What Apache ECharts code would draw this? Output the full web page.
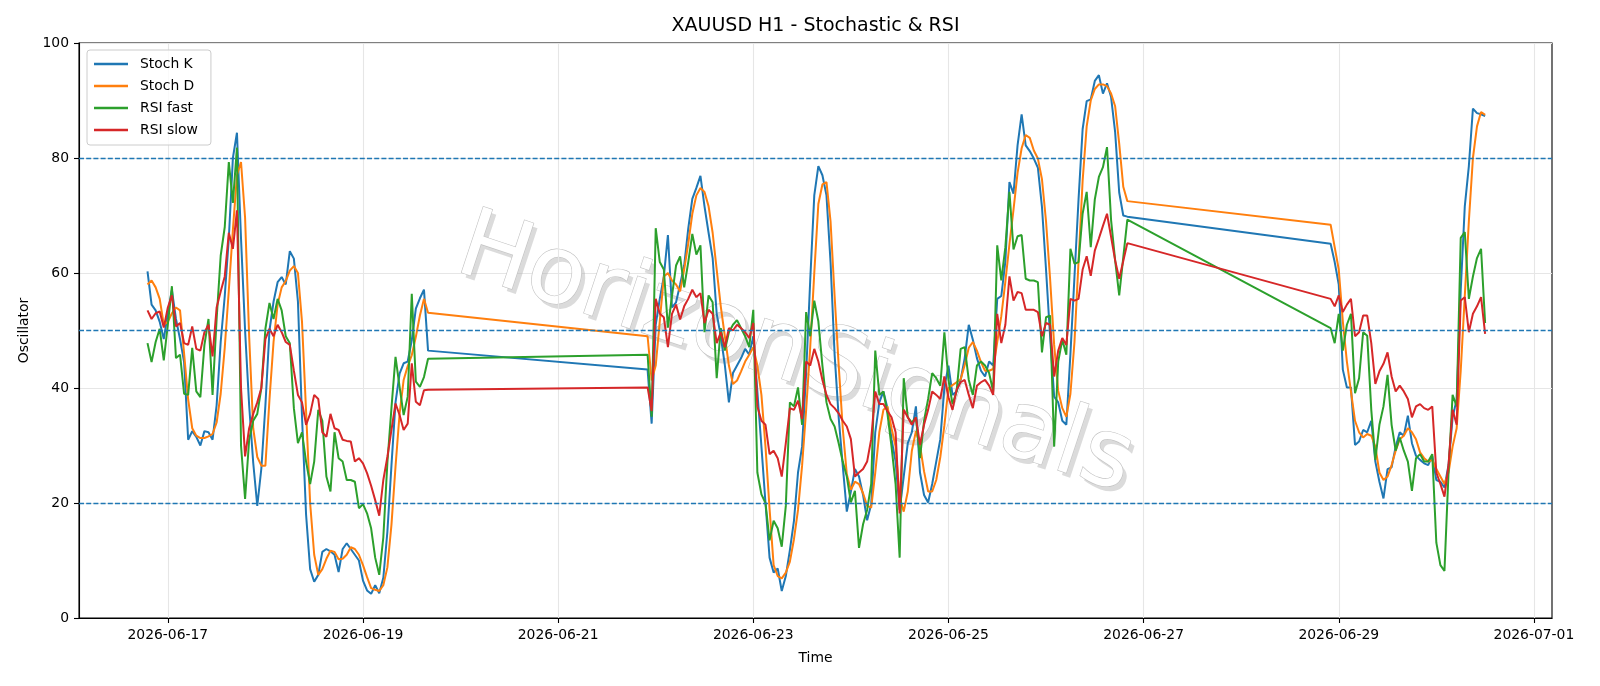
<!DOCTYPE html>
<html><head><meta charset="utf-8">
<script src="https://cdn.jsdelivr.net/npm/echarts@6/dist/echarts.min.js"></script>
<style>html,body{margin:0;padding:0;background:#fff}#c{width:1600px;height:686px}</style>
</head><body><div id="c"></div>
<script>
// hourly segments (data resumes after weekend gaps)
const segmentStarts = ['2026-06-16T19:00:00', '2026-06-21T22:00:00', '2026-06-28T22:00:00'];
const xTickLabels = ['2026-06-17','2026-06-19','2026-06-21','2026-06-23','2026-06-25','2026-06-27','2026-06-29','2026-07-01'];
const levelLines = [20,50,80];
const seriesNames = ['Stoch K','Stoch D','RSI fast','RSI slow'];

const stochK1 = [60.3,54.5,53.5,51.5,48.5,53,57,52,48.5,44.5,31,32.5,31.5,30,32.5,32.3,31,37,48,56,66,80,84.4,66,50,37,27,19.5,26,37,50,55,58.4,59.3,58,63.8,62.5,55,35,18,8.5,6.3,7.5,11.5,12,11.6,11,8,12,13,12,11,10,6.5,4.8,4.2,5.7,4.3,7,15,26.5,37.5,42.5,44.3,44.6,48.3,53.8,55.6,57.1,46.5];
const stochK2 = [43.2,33.8,51,55.5,59.4,66.6,54,54.9,58,61.3,67.7,72.9,74.8,76.9,71.6,67,62.6,52.9,49,44,37.5,42.6,43.9,45.2,46.8,45.8,49,39.4,29.8,20,10.5,7.9,8.6,4.7,7.3,11.8,16.9,25.3,29.8,42.6,58.7,73.5,78.6,77,73.5,61.9,45.8,34.9,26.5,18.5,22,25.9,24.6,21.4,17,19.8,32.3,37.5,39.4,36.5,31.1,27.2,18.8,24.6,30.4,32.3,36.8,25.3,21.4,20.1,23.3,27.2,31.1,40.1,43.9,38.8,39.4,41.4,45.2,51,48.4,45.2,43,42,44.6,43.9,55.5,56,62,75.8,73.8,82.2,87.6,82.2,81.2,79.9,78.3,71.5,60.6,49,38.5,37.5,34.3,33.6,45.9,59.4,72.8,85,89.9,90.2,93.4,94.4,91.2,93,90.6,84.5,74,70,69.8];
const stochK3 = [65.1,61.9,58,43.2,40.1,40.1,30.1,30.7,32.7,32.3,34.3,27.2,23.7,20.8,25.9,26.2,29.8,32.3,31.7,35.2,30.4,28.2,27.5,26.9,26.6,28.2,24,23.7,22.7,26.6,34.9,38,57,71.6,78.6,88.6,87.8,87.6,87.3];

const stochD1 = [58,58.7,57.5,55.5,51,51.5,53,54,53.5,46,38,33,31.7,31.3,31.3,31.6,32,34,39,47,57,67.5,77,79.3,69.6,49,33,28,26.5,26.5,38,48,54.5,57.5,58.6,60.4,61.2,60,51.5,36,20,11,7.5,8.5,10.3,11.7,11.5,10.2,10.3,11,12.3,12,11,9.2,7.1,5.2,4.9,4.7,5.7,8.8,16.2,26.3,35.5,41.4,43.8,45.7,48.9,52.6,55.5,53.1];
const stochD2 = [49,41.3,43.9,51.6,59.4,60,58.7,58,56.8,60.6,65.1,70.3,73.5,74.8,74.1,71.6,67,60.6,54.2,49,43.9,40.7,41.3,42.9,44.6,45.8,47.1,43.9,38.8,29.8,19,9.2,7.3,6.9,7.9,9.8,13.7,18.8,26.5,36.2,47.1,60,72,75.4,75.8,69,56,44,33,25,22.3,23.7,23.3,21.7,19.5,19.2,25.3,32.3,36.2,36.8,33,29.8,21,18.5,22,29.1,32.5,30,25.5,22,22,24,28,33.5,40,40.5,41,41.5,44,47,48,46.5,44.5,43,43,43.3,48,52.5,58.5,65,71,77.4,81.7,84,83.5,81.3,79.9,76.3,69,59,47.5,39.5,36.5,35,39,48,62,76,85.5,90,92,92.8,92.8,92.5,91.2,89,82.5,75,72.5];
const stochD3 = [68.4,64.5,60.6,51.6,44.6,39.4,34.3,32.3,31.4,32,31.7,29.8,25.3,24,24.6,26.6,29.1,31.1,31.7,33,32.3,31.1,28.8,27.8,27.2,27.5,25.9,24.6,23.3,25.3,29.8,33,43,56,69,80,85.5,88,87.5];

const rsiFast1 = [47.8,44.5,48,50.3,44.8,51,57.7,45.2,45.8,39,38.8,47,39.4,38.4,47.5,52,38.8,52,63,68,79.3,72.2,81.8,30,20.7,31,34.3,35.5,40,50.3,54.8,52,55.5,53.5,49,47.8,36.5,30.4,32.3,27.2,23.3,27.2,36.2,34.3,24.6,22,32.3,27.8,27.2,24,24,23.7,19.1,19.8,18.2,15.6,10.5,7.5,14,27,36.5,45.4,40.2,35.3,38.5,56.4,41.1,40.2,41.9,45.1];
const rsiFast2 = [45.8,35,67.8,61.9,60.6,50.5,56,61.3,62.9,57.5,61.9,66.8,63.2,64.8,49.7,56.1,54.9,41.7,50.4,46.5,49.7,51,51.8,50.4,49,47.1,53.6,25.3,21.5,20,13.5,16.9,15.6,12.4,19.5,37.5,36.8,40.1,33.6,53.2,49,55.2,51.6,43.9,37.5,34.6,33.3,30.4,27.2,24.6,20.1,22.1,12.2,16.3,18.8,23.3,46.5,38.8,39.4,35.5,29.8,23.3,10.5,41.7,34.9,34,34.9,27.8,34.3,38.1,42.6,41.7,40.4,49.7,41.4,37.2,39.4,46.8,47.1,41.4,38.8,43.9,44.6,43.9,42.6,39.4,64.8,58.7,64.5,74.1,64.1,66.4,66.6,59,58.7,58.7,58.4,46.2,52.3,52.6,29.8,44.6,48.4,45.8,64.2,61.6,61.9,70.3,74.1,64.5,72.8,76.7,78.4,81.9,69.2,62.2,56.1,62.7,69.3];
const rsiFast3 = [50.4,47.8,52.9,46.5,51,52.9,39.1,41.7,49.7,49.1,36.2,27.5,33.6,36.8,42.3,33.6,29.1,31.4,29.1,27.2,22.1,27.8,28.5,27.2,27.2,28.5,13.1,9.2,8.2,25.3,38.8,36.8,66.1,67.1,55.5,59.4,62.6,64.2,51.3];

const rsiSlow1 = [53.5,52,53,53.3,50.5,54,56.1,50.7,51.3,47.8,47.5,50.7,46.8,46.5,49.7,51,45.5,54,56.8,59.4,67,64.2,70.9,40,28.1,33,35.5,37.5,40,48.5,50.3,49,51,49.7,48,47.5,43,38.8,37.5,33.6,35.5,38.8,38.1,32.3,31.5,35.5,33,32.7,31,30.8,30.7,27.2,27.8,26.9,25.2,23,20.5,17.8,24,28,32.7,37.3,35.3,32.7,33.8,44.3,37.6,37,39.6,39.7];
const rsiSlow2 = [40.1,36,55.5,52.9,52.3,47.1,52.9,54.5,51.9,54.2,55.5,57.1,55.8,56.5,51.3,53.6,52.9,47.8,49.7,47.1,50.4,50,51,50.4,49.7,48.7,51.3,36.8,34.3,33.6,28.5,29.1,27.8,24.6,30.4,36.5,36.2,37.8,34.6,44.6,43.9,46.8,44.6,41.4,38.8,37.2,36.5,35.6,34.3,33.3,31.1,24.6,25.3,25.9,27.2,31.1,39.4,37.2,37.2,36,34.9,32.3,18.2,36.2,34.9,33.6,34.9,30.1,33.6,36.2,39.4,38.8,38.1,42,38.4,36.2,39.7,41,41.4,38.8,36.5,40.4,41,41.4,40.4,38.8,52.9,47.8,51,59.4,55.2,56.7,56.5,53.6,53.6,53.6,53.2,49,51.3,51,42,46.5,48.7,47.5,55.5,55.2,55.5,60.6,62.9,59.5,63.9,66,68.2,70.3,66.3,62.2,59,62.1,65.2];
const rsiSlow3 = [55.5,54.2,56.1,53.2,54.5,55.5,49,49.7,52.6,52.6,47.8,40.7,42.9,44.2,46.2,42,39.4,40.4,39.4,38.1,34.9,36.8,37.2,36.5,36.2,36.8,25.3,23.3,21.1,26.6,36.2,33.6,55.2,55.8,49.7,52.9,54.2,55.8,49.4];

const colors = ['#1f77b4','#ff7f0e','#2ca02c','#d62728'];
const FF = 'DejaVu Sans';
const HOUR = 3600000;

function build(segs) {
  const out = [];
  segs.forEach((vals, s) => {
    const t0 = new Date(segmentStarts[s]).getTime();
    vals.forEach((v, i) => out.push([t0 + i * HOUR, v]));
  });
  return out;
}
const allSeries = [
  build([stochK1, stochK2, stochK3]),
  build([stochD1, stochD2, stochD3]),
  build([rsiFast1, rsiFast2, rsiFast3]),
  build([rsiSlow1, rsiSlow2, rsiSlow3])
];
const tickVals = xTickLabels.map(d => new Date(d + 'T00:00:00').getTime());
const pad = n => (n < 10 ? '0' : '') + n;
const fmt = v => { const d = new Date(v); return d.getFullYear() + '-' + pad(d.getMonth() + 1) + '-' + pad(d.getDate()); };

const chart = echarts.init(document.getElementById('c'), null, {renderer: 'canvas'});
const series = seriesNames.map((name, i) => ({
  name, type: 'line', data: allSeries[i], showSymbol: false, symbol: 'none',
  lineStyle: {width: 2, color: colors[i]}, itemStyle: {color: colors[i]},
  z: 3, animation: false
}));
series.push({
  name: '_levels', type: 'line', data: [], z: 4, silent: true,
  markLine: {
    silent: true, symbol: 'none', animation: false, label: {show: false},
    lineStyle: {color: '#1f77b4', type: [5, 2.2], width: 1.4},
    data: levelLines.map(v => ({yAxis: v}))
  }
});
series.push({
  name: '_vgrid', type: 'line', data: [], z: 1, silent: true,
  markLine: {
    silent: true, symbol: 'none', animation: false, label: {show: false}, z: 1,
    lineStyle: {color: '#e6e6e6', type: 'solid', width: 1.1},
    data: tickVals.map(v => ({xAxis: v}))
  }
});

chart.setOption({
  backgroundColor: '#fff',
  animation: false,
  legend: {
    data: seriesNames, orient: 'vertical', left: 87, top: 50,
    icon: 'rect', itemWidth: 34, itemHeight: 2.5, itemGap: 6,
    padding: [6, 13, 7, 7], backgroundColor: 'rgba(255,255,255,0.8)',
    borderColor: '#cccccc', borderWidth: 1, borderRadius: 3,
    textStyle: {fontFamily: FF, fontSize: 13.9, color: '#000', lineHeight: 16, padding: [0, 0, 0, 7]}
  },
  grid: {left: 79, right: 48, top: 43, bottom: 68, containLabel: false, outerBoundsMode: 'none',
    show: true, borderColor: '#000', borderWidth: 1.1, backgroundColor: 'transparent'},
  xAxis: {
    type: 'value',
    min: new Date('2026-06-16T02:09:00').getTime(),
    max: new Date('2026-07-01T04:27:00').getTime(),
    axisLine: {show: true, onZero: false, lineStyle: {color: '#000', width: 1.1}},
    axisTick: {show: true, customValues: tickVals, length: 5, inside: false, lineStyle: {color: '#000', width: 1.1}},
    axisLabel: {customValues: tickVals, formatter: v => fmt(v), color: '#000', fontSize: 13.9, fontFamily: FF, margin: 10, hideOverlap: false},
    splitLine: {show: false},
    name: 'Time', nameLocation: 'middle', nameGap: 33,
    nameTextStyle: {fontFamily: FF, fontSize: 13.9, color: '#000'}
  },
  yAxis: {
    type: 'value', min: 0, max: 100, interval: 20,
    axisLine: {show: true, lineStyle: {color: '#000', width: 1.1}},
    axisTick: {show: true, length: 5, inside: false, lineStyle: {color: '#000', width: 1.1}},
    axisLabel: {color: '#000', fontSize: 13.9, fontFamily: FF, margin: 10},
    splitLine: {show: true, lineStyle: {color: '#e6e6e6', width: 1.1}},
    name: 'Oscillator', nameLocation: 'middle', nameGap: 46,
    nameTextStyle: {fontFamily: FF, fontSize: 13.9, color: '#000'}
  },
  graphic: [
    {type: 'text', x: 815.5, y: 26, z: 10, silent: true,
      style: {text: 'XAUUSD H1 - Stochastic & RSI', font: '19px "DejaVu Sans"', align: 'center', verticalAlign: 'middle', fill: '#000'}},
    {type: 'text', x: 799, y: 362, rotation: -0.32, z: 1, silent: true,
      style: {text: 'HorizonSignals', font: '95px "DejaVu Sans"', align: 'center', verticalAlign: 'middle',
        fill: 'rgba(175,175,175,0.45)'}},
    {type: 'text', x: 795, y: 357, rotation: -0.32, z: 1, silent: true,
      style: {text: 'HorizonSignals', font: '95px "DejaVu Sans"', align: 'center', verticalAlign: 'middle',
        fill: '#ffffff', stroke: '#c2c2c2', lineWidth: 1.2}}
  ],
  series
});
</script></body></html>
